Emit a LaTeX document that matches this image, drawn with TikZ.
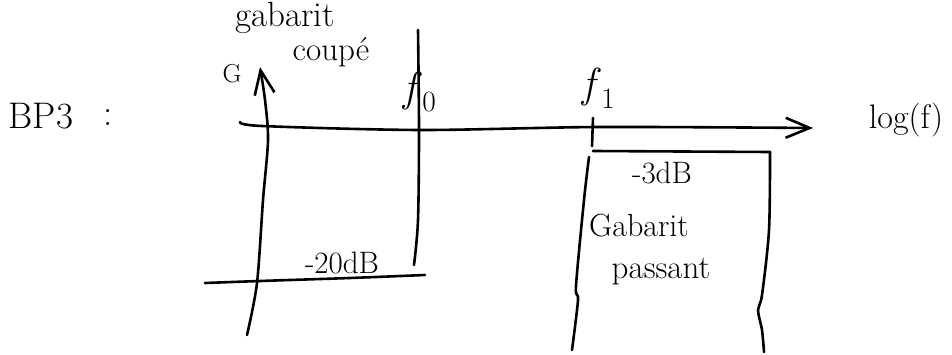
\documentclass[tikz,border=0pt]{standalone}
\usepackage{fontspec}
\usetikzlibrary{arrows.meta}
\begin{document}
\begin{tikzpicture}[x=1pt,y=-1pt,
  ink/.style={line width=2.6pt,line cap=round,line join=round},
  hand/.style={inner sep=0pt,font=\fontsize{#1}{#1}\selectfont},
  hand/.default=24,
  tip/.style={-{Straight Barb[length=24pt,width=20pt,line width=2.6pt]}}]
\useasboundingbox (0,0) rectangle (952,355);
% texts
\node[hand=37] (bp) at (41,116) {BP3};
\node[hand=37] (colon) at (108,118) {:};
\node[hand=35] (gab1) at (285,18) {gabarit};
\node[hand=33] (coupe) at (331,52) {coupé};
\node[hand=26] (G) at (232,74) {G};
\node[hand=42] (f0) at (420,92) {\textit{f}\textsubscript{0}};
\node[hand=42] (f1) at (599,88) {\textit{f}\textsubscript{1}};
\node[hand=34] (logf) at (906,120) {log(f)};
\node[hand=31] (m20) at (342,263) {-20dB};
\node[hand=31] (m3) at (662,173) {-3dB};
\node[hand=32] (gab2) at (639,226) {Gabarit};
\node[hand=33] (pass) at (661,272) {passant};
% key points
\coordinate (ax0) at (240,122);
\coordinate (ax1) at (813,128);
\coordinate (g0) at (247,335);
\coordinate (g1) at (260,67);
\coordinate (fa) at (418,30);
\coordinate (fb) at (414,265);
\coordinate (la) at (205,283);
\coordinate (lb) at (425,275);
\coordinate (ta) at (593,118);
\coordinate (tb) at (592,146);
\coordinate (bl) at (593,151);
\coordinate (br) at (770,152);
\coordinate (lt) at (589,157);
\coordinate (lbot) at (572,350);
\coordinate (rbot) at (764,352);
% frequency axis
\draw[ink,tip] plot[smooth,tension=0.5] coordinates {(ax0) (262,126) (420,130) (600,127) (ax1)};
% gain axis
\draw[ink,tip] plot[smooth,tension=0.5] coordinates {(g0) (257,283) (263,200) (268,140) (265,100) (g1)};
% f0 limit
\draw[ink] plot[smooth,tension=0.5] coordinates {(fa) (419,130) (418,220) (fb)};
% -20 dB line
\draw[ink] plot[smooth,tension=0.5] coordinates {(la) (260,281) (350,278) (lb)};
% f1 tick
\draw[ink] (ta) -- (tb);
% pass template
\draw[ink] (bl) -- (br);
\draw[ink] plot[smooth,tension=0.5] coordinates {(lt) (584,200) (576,286) (578,300) (lbot)};
\draw[ink] plot[smooth,tension=0.5] coordinates {(br) (769,230) (762,295) (758,310) (762,330) (rbot)};
\end{tikzpicture}
\end{document}
